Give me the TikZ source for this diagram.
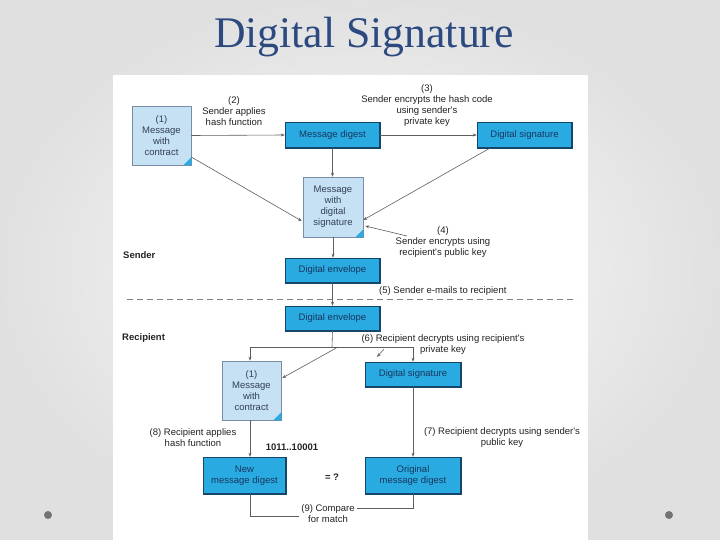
\documentclass[tikz,border=0pt]{standalone}
\usepackage{fontspec}
\setmainfont{Liberation Serif}
\newfontfamily\lsans{Liberation Sans}
\usetikzlibrary{arrows.meta,calc}
\definecolor{titlec}{RGB}{44,74,128}
\definecolor{cyanc}{RGB}{41,170,225}
\definecolor{edgec}{RGB}{22,70,105}
\definecolor{docc}{RGB}{198,224,244}
\definecolor{docedge}{RGB}{120,142,165}
\definecolor{boxtext}{RGB}{25,55,95}
\definecolor{doctext}{RGB}{50,65,85}
\definecolor{labc}{RGB}{35,35,35}
\definecolor{linec}{RGB}{95,95,95}
\begin{document}
\begin{tikzpicture}[x=1pt,y=-1pt,
  every node/.style={font=\lsans\fontsize{9.5}{11}\selectfont, inner sep=0pt, align=center},
  cbox/.style={fill=cyanc, draw=edgec, line width=0.4pt, text=boxtext,
    path picture={\draw[line width=2.6pt,edgec] (path picture bounding box.south west) -- (path picture bounding box.south east) -- (path picture bounding box.north east);}},
  docbox/.style={fill=docc, draw=docedge, line width=0.5pt, text=doctext, minimum width=59pt, minimum height=59pt},
  lab/.style={text=labc},
  arr/.style={draw=linec, line width=0.6pt, -{Stealth[length=4pt,width=3pt]}},
  ln/.style={draw=linec, line width=0.6pt}
]
\useasboundingbox (0,0) rectangle (720,540);
\shade[inner color=white!97!gray, outer color=gray!24] (0,0) rectangle (720,540);
\fill[white] (113,75) rectangle (588,540);
\fill[gray!110] (48,515) circle (4);
\fill[gray!110] (669,515) circle (4);
\node[font=\fontsize{43.7}{48}\selectfont, text=titlec] (title) at (364,37) {Digital Signature};

% sender side
\node[docbox] (sMsg) at (161.5,135.5) {(1)\\Message\\with\\contract};
\fill[cyanc] (sMsg.south east) -- ++(-8,0) -- ++(8,-8) -- cycle;
\node[cbox, minimum width=95pt, minimum height=26pt] (sDig) at (332.5,135) {Message digest};
\node[cbox, minimum width=95pt, minimum height=26pt] (sSig) at (524.5,135) {Digital signature};
\node[docbox, minimum width=60pt, minimum height=60pt] (sMsgSig) at (333,207) {Message\\with\\digital\\signature};
\fill[cyanc] (sMsgSig.south east) -- ++(-8,0) -- ++(8,-8) -- cycle;
\node[cbox, minimum width=95pt, minimum height=25pt] (sEnv) at (332.5,270.5) {Digital envelope};

\node[lab] (L2) at (234,111) {(2)\\Sender applies\\hash function};
\node[lab] (L3) at (427,105.5) {(3)\\Sender encrypts the hash code\\using sender's\\private key};
\node[lab] (L4) at (443,242) {(4)\\Sender encrypts using\\recipient's public key};
\node[lab, anchor=west] (L5) at (379,291) {(5) Sender e-mails to recipient};
\node[lab, anchor=west, font=\lsans\bfseries\fontsize{9.5}{11}\selectfont] (snd) at (123,255) {Sender};
\node[lab, anchor=west, font=\lsans\bfseries\fontsize{9.5}{11}\selectfont] (rcp) at (122,338) {Recipient};

\draw[arr] (sMsg.east) -- (sDig.west);
\draw[arr] (sDig.east) -- (sSig.west);
\draw[arr] (sDig.south) -- (sDig.south |- sMsgSig.north);
\draw[arr] ($(sMsg.east)+(0,21.5)$) -- ($(sMsgSig.west)+(-1,14)$);
\draw[arr] ($(sSig.south west)+(13,0)$) -- ($(sMsgSig.east)+(0,13)$);
\coordinate (c4) at (407,236);
\draw[arr] (c4) -- ($(sMsgSig.east)+(2,19)$);
\draw[arr] (sMsgSig.south) -- (sMsgSig.south |- sEnv.north);

\draw[linec!80, line width=0.7pt, dash pattern=on 6pt off 4pt] (127,299) -- (577,299);

% recipient side
\node[cbox, minimum width=95pt, minimum height=25pt] (rEnv) at (332.5,318.5) {Digital envelope};
\draw[arr] (sEnv.south) -- (rEnv.north);
\node[docbox] (rMsg) at (251.5,390.5) {(1)\\Message\\with\\contract};
\fill[cyanc] (rMsg.south east) -- ++(-8,0) -- ++(8,-8) -- cycle;
\node[cbox, minimum width=96pt, minimum height=25pt] (rSig) at (413,374.5) {Digital signature};
\node[cbox, minimum width=83pt, minimum height=37pt] (rNew) at (244.5,475.5) {New\\message digest};
\node[cbox, minimum width=96pt, minimum height=37pt] (rOrig) at (413,475.5) {Original\\message digest};

\node[lab] (L6) at (443,344.5) {(6) Recipient decrypts using recipient's\\private key};
\node[lab] (L7) at (502,437.5) {(7) Recipient decrypts using sender's\\public key};
\node[lab] (L8) at (193,437.5) {(8) Recipient applies\\hash function};
\node[lab, font=\lsans\bfseries\fontsize{9.5}{11}\selectfont] (bits) at (292,447) {1011..10001};
\node[lab, font=\lsans\bfseries\fontsize{9.5}{11}\selectfont] (eq) at (332,477) {= ?};
\node[lab] (L9) at (328,513.5) {(9) Compare\\for match};

\coordinate (j) at (332,347);
\coordinate (jl) at (250,347);
\coordinate (jr) at (413,347);
\draw[ln] (rEnv.south) -- (j);
\draw[ln] (jl) -- (jr);
\draw[arr] (jl) -- (jl |- rMsg.north);
\draw[arr] (jr) -- (rSig.north);
\draw[arr] (338,347) -- ($(rMsg.east)+(1,-12.5)$);
\coordinate (c6) at (384,349);
\draw[arr] (c6) -- (377,357);

\draw[arr] (jl |- rMsg.south) -- (jl |- rNew.north);
\draw[arr] (rSig.south) -- (rOrig.north);
\draw[ln] (jl |- rNew.south) -- (250,516) -- ($(L9.west)+(-2,2.5)$);
\draw[ln] (rOrig.south) -- (413,508) -- ($(L9.east)+(2,-5.5)$);
\end{tikzpicture}
\end{document}
